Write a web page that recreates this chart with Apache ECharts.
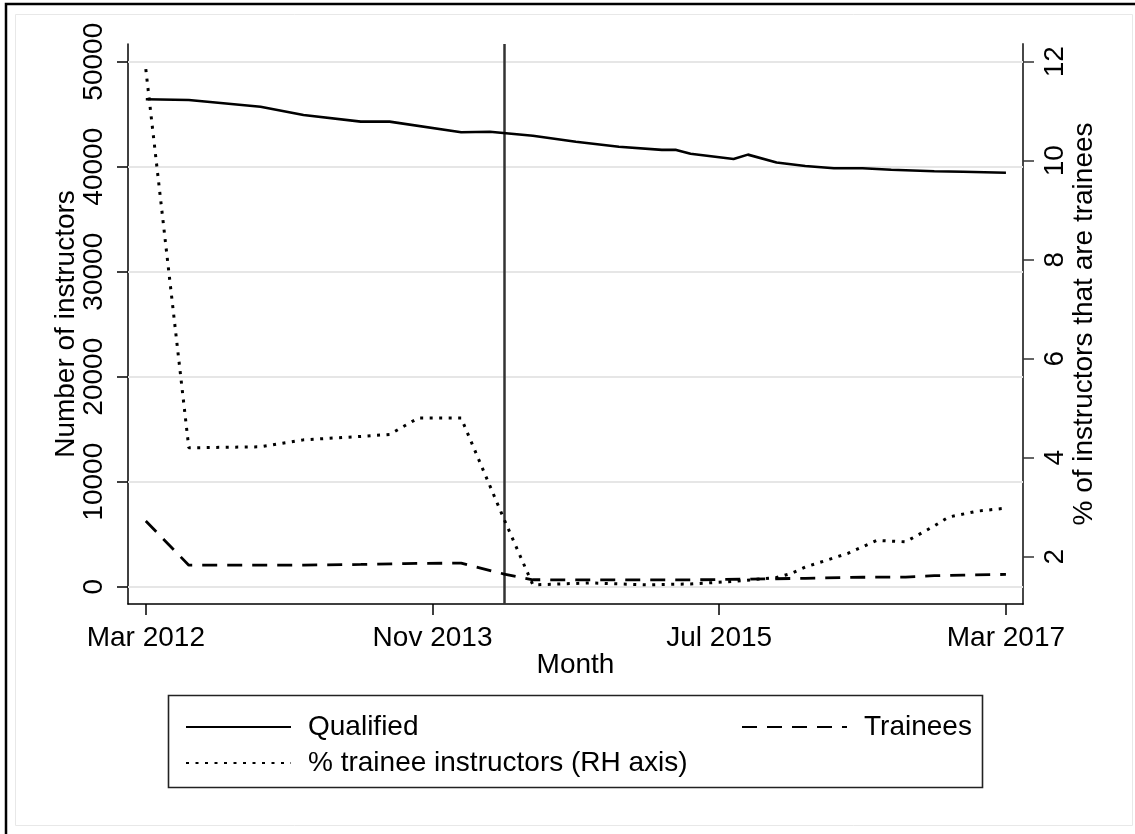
<!DOCTYPE html>
<html>
<head>
<meta charset="utf-8">
<title>Driving instructors</title>
<script src="https://cdn.jsdelivr.net/npm/echarts@6/dist/echarts.min.js"></script>
<style>
  html, body { margin: 0; padding: 0; background: #fff; }
  #chart { width: 1135px; height: 834px; }
</style>
</head>
<body>
<div id="chart"></div>
<script>
// Months are counted from March 2012 (0) to March 2017 (60).
const xTickValues = [0, 20, 40, 60];
const xTickLabels = ['Mar 2012', 'Nov 2013', 'Jul 2015', 'Mar 2017'];
const leftTickValues = [0, 10000, 20000, 30000, 40000, 50000];
const rightTickValues = [2, 4, 6, 8, 10, 12];
const policyChangeMonth = 25;

// Qualified instructors
const qualifiedMonths = [0, 3, 8, 11, 15, 17, 22, 24, 27, 30, 33, 36, 37, 38, 41, 42, 44, 46, 48, 50, 52, 55, 57, 60];
const qualifiedValues = [46420, 46350, 45710, 44920, 44290, 44290, 43280, 43330, 42950, 42380, 41900, 41600, 41600, 41230, 40730, 41150, 40400, 40070, 39850, 39850, 39710, 39560, 39520, 39430];

// Trainee instructors
const traineeMonths = [0, 3, 11, 15, 18, 22, 25, 27, 38, 42, 46, 50, 53, 55, 57, 60];
const traineeValues = [6250, 2050, 2060, 2120, 2200, 2250, 1200, 660, 650, 720, 800, 900, 920, 1050, 1100, 1170];

// Share of instructors that are trainees (%)
const shareMonths = [0, 3, 8, 11, 15, 17, 19, 22, 25, 27, 31, 35, 38, 41, 44, 45, 46, 49, 51, 53, 55, 56, 58, 60];
const shareValues = [11.85, 4.20, 4.22, 4.36, 4.43, 4.47, 4.80, 4.80, 2.75, 1.43, 1.47, 1.43, 1.45, 1.50, 1.58, 1.66, 1.79, 2.07, 2.33, 2.30, 2.62, 2.80, 2.92, 2.98];

const pairs = (xs, ys) => xs.map((x, i) => [x, ys[i]]);

const FONT = '"Liberation Sans", Arial, Helvetica, sans-serif';
const TXT = { fontFamily: FONT, fontSize: 28, color: '#000' };

const chart = echarts.init(document.getElementById('chart'), null, { renderer: 'canvas' });

const legendCommon = {
  itemWidth: 105,
  itemHeight: 28,
  itemStyle: { opacity: 0 },
  textStyle: { ...TXT, padding: [0, 0, 0, 12] },
  selectedMode: false
};

chart.setOption({
  backgroundColor: '#fff',
  animation: false,
  grid: { left: 128, right: 112, top: 44, height: 560, containLabel: false },
  xAxis: {
    type: 'value',
    min: -1.242,
    max: 61.19,
    name: 'Month',
    nameLocation: 'middle',
    nameGap: 47,
    nameMoveOverlap: false,
    nameTextStyle: TXT,
    axisLine: { show: true, onZero: false, lineStyle: { color: '#000', width: 1.5 } },
    axisTick: { show: true, length: 11, lineStyle: { color: '#000', width: 1.5 }, customValues: xTickValues },
    axisLabel: {
      ...TXT,
      margin: 20,
      customValues: xTickValues,
      formatter: v => xTickLabels[xTickValues.indexOf(v)] || ''
    },
    splitLine: { show: false }
  },
  yAxis: [
    {
      type: 'value',
      position: 'left',
      min: -1648,
      max: 51686,
      name: 'Number of instructors',
      nameLocation: 'middle',
      nameGap: 48,
      nameMoveOverlap: false,
      nameRotate: 90,
      nameTextStyle: TXT,
      axisLine: { show: true, onZero: false, lineStyle: { color: '#000', width: 1.5 } },
      axisTick: { show: true, length: 11, lineStyle: { color: '#000', width: 1.5 }, customValues: leftTickValues },
      axisLabel: { ...TXT, rotate: 90, margin: 20, customValues: leftTickValues, formatter: v => String(v) },
      splitLine: { show: false }
    },
    {
      type: 'value',
      position: 'right',
      min: 1.044,
      max: 12.358,
      alignTicks: false,
      name: '% of instructors that are trainees',
      nameLocation: 'middle',
      nameGap: 47,
      nameMoveOverlap: false,
      nameRotate: 90,
      nameTextStyle: TXT,
      axisLine: { show: true, onZero: false, lineStyle: { color: '#333', width: 1.8 } },
      axisTick: { show: true, length: 11, lineStyle: { color: '#333', width: 1.5 }, customValues: rightTickValues },
      axisLabel: { ...TXT, rotate: 90, margin: 18, customValues: rightTickValues, formatter: v => String(v) },
      splitLine: { show: false }
    }
  ],
  legend: [
    { ...legendCommon, data: ['Qualified'], left: 180, top: 708 },
    { ...legendCommon, data: ['Trainees'], left: 736, top: 708 },
    { ...legendCommon, data: ['% trainee instructors (RH axis)'], left: 180, top: 744 }
  ],
  graphic: [
    { type: 'rect', silent: true, z: -10,
      shape: { x: 6, y: 4, width: 1300, height: 1000 },
      style: { fill: 'none', stroke: '#000', lineWidth: 2.5 } },
    { type: 'rect', silent: true, z: -10,
      shape: { x: 15.5, y: 14.5, width: 1117, height: 811 },
      style: { fill: 'none', stroke: '#e8e8e8', lineWidth: 1 } },
    { type: 'rect', silent: true, z: -5,
      shape: { x: 168.5, y: 695.5, width: 814, height: 92 },
      style: { fill: '#fff', stroke: '#222', lineWidth: 1.6 } }
  ],
  series: [
    {
      name: 'Qualified',
      type: 'line',
      xAxisIndex: 0, yAxisIndex: 0,
      data: pairs(qualifiedMonths, qualifiedValues),
      symbol: 'none',
      z: 4,
      lineStyle: { color: '#000', width: 2.6, type: 'solid' },
      itemStyle: { color: '#000' },
      markLine: {
        silent: true,
        symbol: ['none', 'none'],
        z: 1,
        label: { show: false },
        lineStyle: { color: '#e6e6e6', width: 2, type: 'solid' },
        data: leftTickValues.map(v => ({ yAxis: v }))
      }
    },
    {
      name: 'Trainees',
      type: 'line',
      xAxisIndex: 0, yAxisIndex: 0,
      data: pairs(traineeMonths, traineeValues),
      symbol: 'none',
      z: 4,
      lineStyle: { color: '#000', width: 2.8, type: [15, 10] },
      itemStyle: { color: '#000' },
      markLine: {
        silent: true,
        symbol: ['none', 'none'],
        z: 3,
        label: { show: false },
        lineStyle: { color: '#333', width: 2.5, type: 'solid' },
        data: [{ xAxis: policyChangeMonth }]
      }
    },
    {
      name: '% trainee instructors (RH axis)',
      type: 'line',
      xAxisIndex: 0, yAxisIndex: 1,
      data: pairs(shareMonths, shareValues),
      symbol: 'none',
      z: 4,
      lineStyle: { color: '#000', width: 3, type: [3, 6.5] },
      itemStyle: { color: '#000' }
    }
  ]
});
</script>
</body>
</html>
